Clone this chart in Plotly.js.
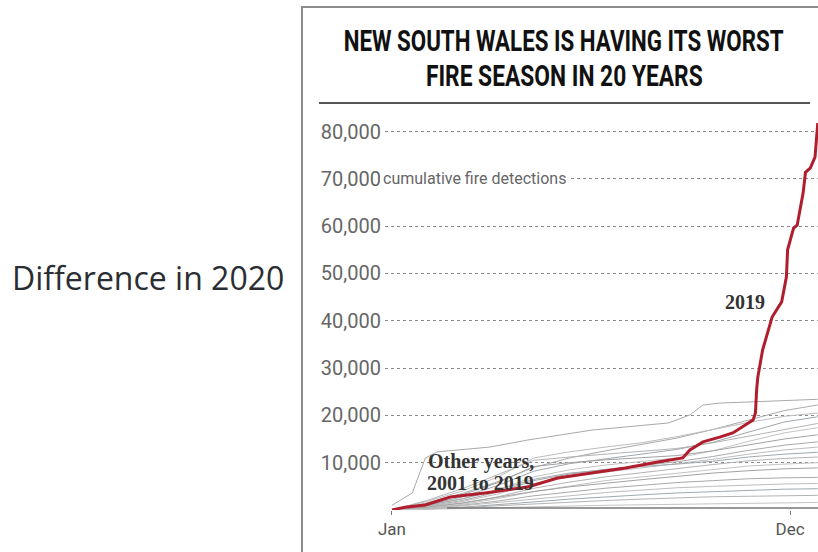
<!DOCTYPE html>
<html><head><meta charset="utf-8">
<script src="https://cdn.plot.ly/plotly-3.0.1.min.js"></script>
<style>
html,body{margin:0;padding:0;background:#fff;}
#chart{width:818px;height:552px;}
</style>
</head><body><div id="chart"></div>
<script>
// ---- data ----
const monthTicks = [1, 335];
const monthLabels = ['Jan', 'Dec'];
const yTicks = [10000, 20000, 30000, 40000, 50000, 60000, 70000, 80000];
const titleLines = ['NEW SOUTH WALES IS HAVING ITS WORST', 'FIRE SEASON IN 20 YEARS'];

// 2019 cumulative fire detections (day of year, count)
const days2019 = [1, 12, 29, 50, 79, 115, 140, 169, 197, 224, 234, 245, 251, 262, 276, 287, 304, 306, 307, 308, 312, 320, 328, 332, 333, 338, 341, 346, 348, 352, 356, 357.5, 358.3];
const vals2019 = [0, 600, 1050, 2750, 3600, 4850, 6750, 7800, 8900, 10150, 10550, 11000, 12700, 14400, 15400, 16300, 19000, 20500, 25400, 28100, 33800, 40800, 44000, 49300, 55000, 59600, 60200, 67000, 71400, 72300, 74600, 80300, 81800];

// other years 2001-2018
const daysTop = [1, 18, 29, 39, 83, 115, 169, 233, 251, 262, 276, 358.3];
const valsTop = [1000, 3600, 11000, 12300, 13300, 14800, 16900, 18400, 20100, 22200, 22600, 23400];
const daysOther = [1, 30, 60, 90, 120, 150, 180, 210, 240, 270, 300, 330, 358.3];
const otherB = [0, 1500, 3500, 6000, 9000, 11000, 12500, 13800, 15200, 17000, 19000, 21000, 22200];
const otherR = [0, 1800, 4000, 7000, 11000, 12300, 13300, 14200, 15500, 17000, 18500, 19800, 20500];
const otherC = [0, 1000, 2800, 5200, 8200, 9800, 10800, 11800, 12800, 14300, 16500, 18600, 19700];
const otherD = [0, 2000, 4500, 7500, 10500, 11200, 11800, 12400, 13000, 14200, 15600, 17000, 18300];
const otherE = [0, 900, 2300, 4300, 7000, 8500, 9500, 10300, 11000, 12500, 14500, 16300, 17400];
const otherF = [0, 1300, 3200, 5800, 9200, 10000, 10600, 11000, 11500, 12500, 13800, 15000, 15900];
const otherG = [0, 800, 2000, 3800, 6200, 7600, 8600, 9400, 10200, 11300, 12600, 13700, 14400];
const otherH = [0, 700, 1800, 3400, 5600, 7000, 8000, 8900, 9800, 10700, 11800, 12700, 13300];
const otherI = [0, 1000, 2400, 4200, 6500, 7800, 8500, 9200, 9700, 10300, 11200, 11800, 12200];
const otherJ = [0, 500, 1400, 2800, 4600, 5900, 7000, 7900, 8800, 9600, 10400, 10900, 11200];
const otherK = [0, 400, 1200, 2400, 3900, 5100, 6200, 7000, 7800, 8600, 9300, 9700, 10000];
const otherL = [0, 600, 1500, 2700, 3900, 4900, 5700, 6400, 7100, 7800, 8300, 8700, 8900];
const otherM = [0, 300, 1000, 1900, 3000, 3800, 4600, 5200, 5800, 6200, 6600, 6800, 6900];
const otherN = [0, 300, 900, 1600, 2400, 3100, 3700, 4200, 4700, 5000, 5300, 5500, 5600];
const otherO = [0, 200, 600, 1100, 1700, 2300, 2800, 3200, 3600, 3900, 4200, 4400, 4500];
const otherP = [0, 200, 500, 900, 1300, 1700, 2000, 2300, 2600, 2800, 2900, 3000, 3100];
const otherQ = [0, 100, 300, 500, 700, 900, 1000, 1100, 1200, 1300, 1400, 1500, 1600];

// ---- layout helpers (pixel -> paper) ----
const L = 385, T = 120, W = 433, H = 390;
const PX = p => (p - L) / W;
const PY = p => (T + H - p) / H;

const grays = ['#a9a9a9', '#bdbdbd', '#9fa8ae', '#b3b3b3', '#c4c4c4', '#a2a2a2'];
const others = [otherB, otherR, otherC, otherD, otherE, otherF, otherG, otherH, otherI, otherJ, otherK, otherL, otherM, otherN, otherO, otherP, otherQ];

const traces = [];
traces.push({x: daysTop, y: valsTop, type: 'scatter', mode: 'lines', line: {color: '#a9a9a9', width: 1}, hoverinfo: 'skip'});
others.forEach((v, i) => traces.push({x: daysOther, y: v, type: 'scatter', mode: 'lines', line: {color: grays[i % grays.length], width: 1}, hoverinfo: 'skip'}));
traces.push({x: days2019, y: vals2019, type: 'scatter', mode: 'lines', line: {color: '#b01e2d', width: 3}, hoverinfo: 'skip'});

const titleFont = {family: 'Roboto, "Liberation Sans", sans-serif', size: 30, color: '#111', weight: 700};
const serifBold = {family: '"Liberation Serif", "DejaVu Serif", serif', size: 20, color: '#333', weight: 700};
// target rendered widths (px) of the condensed headline lines
const titleWidths = [440, 277];

const layout = {
  width: 818, height: 552,
  margin: {l: L, r: 0, t: T, b: 552 - T - H, pad: 0},
  paper_bgcolor: '#fff', plot_bgcolor: '#fff',
  showlegend: false,
  xaxis: {
    range: [-4.87, 358.5], tickvals: monthTicks, ticktext: monthLabels,
    ticks: 'outside', ticklen: 4, tickcolor: '#777', showgrid: false, zeroline: false, showline: false,
    tickfont: {family: 'Roboto, sans-serif', size: 17, color: '#555'}, fixedrange: true
  },
  yaxis: {
    range: [0, 82450], tickvals: yTicks, tickformat: ',d', ticks: '',
    showgrid: true, gridcolor: '#8a8a8a', gridwidth: 1, griddash: 'dot', zeroline: false, showline: false,
    ticklabelstandoff: 3,
    tickfont: {family: 'Roboto, sans-serif', size: 20, color: '#666'}, fixedrange: true
  },
  shapes: [
    {type: 'path', xref: 'paper', yref: 'paper', path: `M ${PX(302)} ${PY(560)} L ${PX(302)} ${PY(7)} L ${PX(830)} ${PY(7)}`, line: {color: '#8c8c8c', width: 2}},
    {type: 'line', xref: 'paper', yref: 'paper', x0: PX(319), x1: PX(810), y0: PY(103), y1: PY(103), line: {color: '#555', width: 2}},
    {type: 'line', xref: 'paper', yref: 'paper', x0: PX(447), x1: PX(830), y0: PY(508), y1: PY(508), line: {color: '#777', width: 1.5}}
  ],
  annotations: [
    {text: titleLines[0], xref: 'paper', yref: 'paper', x: PX(563), y: PY(40), xanchor: 'center', yanchor: 'middle', showarrow: false, font: titleFont},
    {text: titleLines[1], xref: 'paper', yref: 'paper', x: PX(564), y: PY(76), xanchor: 'center', yanchor: 'middle', showarrow: false, font: titleFont},
    {text: 'cumulative fire detections', xref: 'paper', yref: 'y', x: PX(380), y: 70000, xanchor: 'left', yanchor: 'middle', showarrow: false, bgcolor: '#fff', borderpad: 2, font: {family: 'Roboto, sans-serif', size: 16, color: '#666'}},
    {text: 'Other years,', xref: 'paper', yref: 'paper', x: PX(426), y: PY(461), xanchor: 'left', yanchor: 'middle', showarrow: false, font: serifBold},
    {text: '2001 to 2019', xref: 'paper', yref: 'paper', x: PX(425), y: PY(483), xanchor: 'left', yanchor: 'middle', showarrow: false, font: serifBold},
    {text: '2019', xref: 'paper', yref: 'paper', x: PX(745), y: PY(302), xanchor: 'center', yanchor: 'middle', showarrow: false, font: serifBold},
    {text: 'Difference in 2020', xref: 'paper', yref: 'paper', x: PX(10), y: PY(277), xanchor: 'left', yanchor: 'middle', showarrow: false, font: {family: '"Open Sans", "Noto Sans", sans-serif', size: 32, color: '#2a2e33'}}
  ]
};

Plotly.newPlot('chart', traces, layout, {displayModeBar: false, staticPlot: true}).then(() => {
  // condense the headline horizontally (the original uses a compressed display face)
  document.querySelectorAll('#chart .annotation-text').forEach(t => {
    const i = titleLines.indexOf(t.textContent);
    if (i < 0) return;
    const w = t.getBBox().width;
    t.style.transformBox = 'fill-box';
    t.style.transformOrigin = 'center';
    t.style.transform = 'scaleX(' + (titleWidths[i] / w) + ')';
  });
});
</script>
</body></html>
